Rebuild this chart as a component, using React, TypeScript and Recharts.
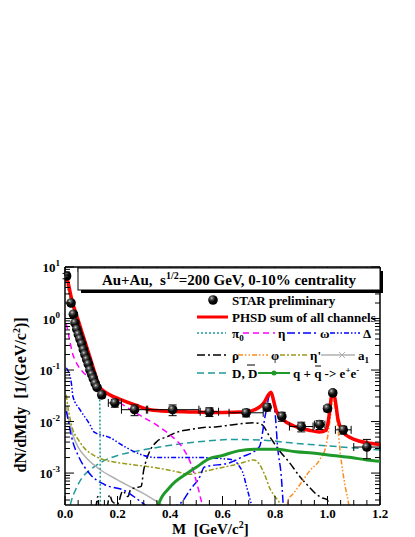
import React from 'react'
import { ComposedChart, Line, Scatter, XAxis, YAxis, ErrorBar, ReferenceLine } from 'recharts'

const SERIF = '"Liberation Serif", "Times New Roman", "DejaVu Serif", serif'
const LEFT = 65
const RIGHT = 380
const TOP = 267
const BOTTOM = 505

// dN/dMdy per channel (M in GeV/c^2)
const sumM = [0.002, 0.008, 0.027, 0.05, 0.075, 0.1, 0.115, 0.13, 0.14, 0.17, 0.21, 0.267, 0.324, 0.4, 0.5, 0.6, 0.69, 0.74, 0.76, 0.775, 0.785, 0.795, 0.805, 0.83, 0.87, 0.93, 0.97, 0.995, 1.005, 1.015, 1.022, 1.03, 1.04, 1.06, 1.09, 1.12, 1.16, 1.2]
const sumY = [7.3, 5.9, 2.2, 0.93, 0.37, 0.146, 0.083, 0.048, 0.042, 0.033, 0.027, 0.021, 0.017, 0.0158, 0.0153, 0.015, 0.0155, 0.019, 0.024, 0.033, 0.037, 0.025, 0.016, 0.011, 0.0083, 0.0068, 0.0063, 0.0068, 0.012, 0.03, 0.037, 0.025, 0.011, 0.0062, 0.0048, 0.0042, 0.0038, 0.0036]

const pi0M = [0.003, 0.01, 0.025, 0.05, 0.075, 0.1, 0.11, 0.12, 0.128, 0.132, 0.1335, 0.1345, 0.136]
const pi0Y = [6.5, 4.0, 2.0, 0.85, 0.34, 0.14, 0.1, 0.065, 0.045, 0.03, 0.005, 0.0004, 0.00001]

const etaM = [0.004, 0.01, 0.02, 0.03, 0.04, 0.05, 0.07, 0.1, 0.13, 0.16, 0.2, 0.25, 0.3, 0.35, 0.4, 0.45, 0.48, 0.5, 0.515, 0.525, 0.535]
const etaY = [0.8, 0.6, 0.33, 0.2, 0.15, 0.12, 0.09, 0.065, 0.045, 0.035, 0.025, 0.017, 0.012, 0.0085, 0.0055, 0.003, 0.0015, 0.0007, 0.00035, 0.0002, 0.00005]

const omegaM = [0.005, 0.01, 0.03, 0.05, 0.1, 0.15, 0.23, 0.28, 0.31, 0.35, 0.42, 0.44, 0.48, 0.514, 0.53, 0.63, 0.67, 0.74, 0.765, 0.782, 0.8, 0.81, 0.825, 0.83, 0.835]
const omegaY = [0.016, 0.012, 0.004, 0.0022, 0.0009, 0.0006, 0.00045, 0.0003, 0.00023, 0.00018, 0.00023, 0.00026, 0.0005, 0.00085, 0.0013, 0.0016, 0.002, 0.0032, 0.015, 0.035, 0.015, 0.0032, 0.00074, 0.0003, 0.0001]

const deltaM = [0.005, 0.01, 0.025, 0.03, 0.057, 0.095, 0.11, 0.17, 0.23, 0.3, 0.35, 0.52, 0.6, 0.64, 0.66, 0.68, 0.69, 0.7, 0.71, 0.72]
const deltaY = [0.11, 0.1, 0.052, 0.031, 0.017, 0.0087, 0.0063, 0.0049, 0.0032, 0.0022, 0.002, 0.002, 0.0019, 0.0018, 0.00145, 0.00093, 0.00059, 0.00038, 0.00024, 0.0001]

const rhoM = [0.11, 0.12, 0.125, 0.13, 0.16, 0.17, 0.18, 0.2, 0.22, 0.24, 0.25, 0.27, 0.29, 0.3, 0.31, 0.325, 0.35, 0.39, 0.43, 0.47, 0.52, 0.58, 0.64, 0.72, 0.75, 0.78, 0.82, 0.855, 0.895, 0.93, 0.96, 0.98, 1.0, 1.01]
const rhoY = [0.0001, 0.00026, 0.00035, 0.0002, 0.00022, 0.00038, 0.00028, 0.00025, 0.00045, 0.00035, 0.00048, 0.00052, 0.00055, 0.00115, 0.0018, 0.0028, 0.0041, 0.0051, 0.0063, 0.0069, 0.0076, 0.0079, 0.0087, 0.0095, 0.0087, 0.0051, 0.0026, 0.0016, 0.00085, 0.00054, 0.00038, 0.00033, 0.0003, 0.0001]

const phiM = [0.84, 0.85, 0.87, 0.9, 0.935, 0.97, 0.995, 1.01, 1.02, 1.03, 1.04, 1.05, 1.06, 1.07, 1.08, 1.09]
const phiY = [0.0001, 0.0003, 0.0004, 0.00065, 0.00115, 0.0018, 0.0035, 0.011, 0.025, 0.017, 0.0069, 0.0022, 0.00093, 0.00047, 0.00026, 0.0001]

const etaPM = [0.005, 0.01, 0.02, 0.03, 0.05, 0.07, 0.11, 0.15, 0.2, 0.26, 0.35, 0.43, 0.47, 0.52, 0.59, 0.66, 0.72, 0.74, 0.76, 0.78, 0.8, 0.82, 0.83]
const etaPY = [0.033, 0.021, 0.011, 0.0069, 0.0045, 0.0032, 0.0022, 0.0018, 0.0016, 0.00145, 0.00126, 0.00105, 0.00095, 0.00105, 0.00126, 0.0015, 0.0018, 0.0015, 0.00095, 0.00051, 0.00035, 0.00024, 0.0001]

const a1M = [0.005, 0.01, 0.02, 0.03, 0.05, 0.08, 0.13, 0.2, 0.25, 0.3, 0.34, 0.37, 0.4]
const a1Y = [0.02, 0.0135, 0.0087, 0.0055, 0.0032, 0.002, 0.0012, 0.00074, 0.00054, 0.0004, 0.0003, 0.00024, 0.00018]

const charmM = [0.02, 0.025, 0.04, 0.065, 0.1, 0.14, 0.2, 0.28, 0.36, 0.44, 0.52, 0.64, 0.77, 0.85, 0.96, 1.09, 1.2]
const charmY = [0.00024, 0.0003, 0.00047, 0.00081, 0.0012, 0.00165, 0.0022, 0.0027, 0.0032, 0.0037, 0.0041, 0.0045, 0.0043, 0.0039, 0.0035, 0.0031, 0.0028]

const qgpM = [0.355, 0.37, 0.39, 0.42, 0.46, 0.5, 0.55, 0.6, 0.66, 0.72, 0.8, 0.88, 0.96, 1.02, 1.09, 1.15, 1.2]
const qgpY = [0.00024, 0.00035, 0.00047, 0.00068, 0.00095, 0.0013, 0.0019, 0.0022, 0.0027, 0.0029, 0.0029, 0.0026, 0.0024, 0.0022, 0.002, 0.0018, 0.0017]

// STAR preliminary points: M, dN/dMdy, half bin width, y error
const starM = [0.006, 0.023, 0.032, 0.038, 0.045, 0.051, 0.057, 0.064, 0.07, 0.076, 0.083, 0.089, 0.095, 0.102, 0.108, 0.115, 0.122, 0.14, 0.19, 0.265, 0.41, 0.55, 0.69, 0.77, 0.826, 0.9, 0.97, 1.0, 1.02, 1.06, 1.15]
const starY = [6.7, 2.0, 1.21, 0.82, 0.62, 0.49, 0.4, 0.32, 0.25, 0.2, 0.16, 0.13, 0.1, 0.082, 0.068, 0.055, 0.046, 0.033, 0.023, 0.017, 0.017, 0.0155, 0.0148, 0.019, 0.0126, 0.008, 0.0087, 0.018, 0.036, 0.0069, 0.0032]
const starEx = [0, 0, 0, 0, 0, 0, 0, 0, 0, 0, 0, 0, 0, 0, 0, 0, 0, 0.01, 0.025, 0.05, 0.1, 0.035, 0.065, 0.01, 0.01, 0.045, 0.02, 0.005, 0.005, 0.03, 0.05]
const starEy = [0.8, 0.2, 0.1, 0.06, 0.05, 0.04, 0.03, 0.025, 0.02, 0.015, 0.012, 0.01, 0.008, 0.007, 0.006, 0.005, 0.004, 0.004, 0.004, 0.004, 0.004, 0.003, 0.0025, 0.003, 0.0025, 0.0017, 0.0017, 0.0025, 0.004, 0.0012, 0.0013]

const xTicks = [0, 0.05, 0.1, 0.15, 0.2, 0.25, 0.3, 0.35, 0.4, 0.45, 0.5, 0.55, 0.6, 0.65, 0.7, 0.75, 0.8, 0.85, 0.9, 0.95, 1.0, 1.05, 1.1, 1.15, 1.2]
const xLabels = ['0.0', '0.2', '0.4', '0.6', '0.8', '1.0', '1.2']
const yTicks = [
  3e-4, 4e-4, 5e-4, 6e-4, 7e-4, 8e-4, 9e-4,
  1e-3, 2e-3, 3e-3, 4e-3, 5e-3, 6e-3, 7e-3, 8e-3, 9e-3,
  1e-2, 2e-2, 3e-2, 4e-2, 5e-2, 6e-2, 7e-2, 8e-2, 9e-2,
  1e-1, 2e-1, 3e-1, 4e-1, 5e-1, 6e-1, 7e-1, 8e-1, 9e-1,
  1, 2, 3, 4, 5, 6, 7, 8, 9, 10,
]
const yExponents = [-3, -2, -1, 0, 1]

const pts = (m: number[], y: number[]) => m.map((x, i) => ({ x, y: y[i] }))
const star = starM.map((x, i) => ({ x, y: starY[i], ex: starEx[i], ey: starEy[i] }))

function XTick(props: any) {
  const { x, payload } = props
  const v = payload.value
  const major = Math.abs(v * 5 - Math.round(v * 5)) < 1e-6
  const len = major ? 9 : 5
  return (
    <g>
      <line x1={x} x2={x} y1={BOTTOM} y2={BOTTOM - len} stroke="#000" strokeWidth={1} />
      <line x1={x} x2={x} y1={TOP} y2={TOP + len} stroke="#000" strokeWidth={1} />
      {major && (
        <text x={x} y={BOTTOM + 13} textAnchor="middle" fontFamily={SERIF} fontWeight="bold" fontSize={13} fill="#000">
          {xLabels[Math.round(v * 5)]}
        </text>
      )}
    </g>
  )
}

function YTick(props: any) {
  const { y, payload } = props
  const lg = Math.log10(payload.value)
  const e = Math.round(lg)
  const major = Math.abs(lg - e) < 1e-6
  const len = major ? 9 : 5
  return (
    <g>
      <line x1={LEFT} x2={LEFT + len} y1={y} y2={y} stroke="#000" strokeWidth={1} />
      <line x1={RIGHT} x2={RIGHT - len} y1={y} y2={y} stroke="#000" strokeWidth={1} />
      {major && yExponents.includes(e) && (
        <text x={60} y={y + 5} textAnchor="end" fontFamily={SERIF} fontWeight="bold" fontSize={13} fill="#000">
          10<tspan dy={-6} fontSize={9}>{e}</tspan>
        </text>
      )}
    </g>
  )
}

function Ball({ cx, cy }: any) {
  return (
    <g>
      <defs>
        <radialGradient id="ballGrad" cx="0.36" cy="0.3" r="0.65">
          <stop offset="0" stopColor="#d8d8d8" />
          <stop offset="0.22" stopColor="#606060" />
          <stop offset="0.6" stopColor="#0a0a0a" />
          <stop offset="1" stopColor="#000" />
        </radialGradient>
      </defs>
      <circle cx={cx} cy={cy} r={4.8} fill="url(#ballGrad)" />
    </g>
  )
}

const T = { fontFamily: SERIF, fontWeight: 'bold' as const, fontSize: 13, fill: '#000' }

function Overlay() {
  return (
    <svg width={415} height={537} style={{ position: 'absolute', left: 0, top: 0, pointerEvents: 'none' }}>
      {/* title box */}
      <rect x={81} y={271} width={302} height={22} fill="#000" />
      <rect x={78} y={268} width={302} height={22} fill="#fff" stroke="#000" strokeWidth={1} />
      <text x={229} y={285} textAnchor="middle" {...T} fontSize={15}>
        Au+Au,{'\u00a0\u00a0'}s<tspan dy={-6} fontSize={10}>1/2</tspan><tspan dy={6}>=200 GeV, 0-10% centrality</tspan>
      </text>

      {/* legend */}
      <Ball cx={213} cy={300} />
      <text x={232} y={304.5} {...T}>STAR preliminary</text>

      <line x1={197} x2={228} y1={317} y2={317} stroke="#ff0000" strokeWidth={3} />
      <text x={232} y={321.5} {...T}>PHSD sum of all channels</text>

      <line x1={197} x2={226} y1={333} y2={333} stroke="#1f9a9a" strokeWidth={1.5} strokeDasharray="2 2" />
      <text x={232} y={337.5} {...T}>π<tspan dy={3} fontSize={9}>0</tspan></text>
      <line x1={243} x2={275} y1={333} y2={333} stroke="#ff00ff" strokeWidth={1.5} strokeDasharray="6 4" />
      <text x={278} y={337.5} {...T}>η</text>
      <line x1={287} x2={318} y1={333} y2={333} stroke="#0000ff" strokeWidth={1.5} strokeDasharray="8 3 2 3" />
      <text x={320} y={337.5} {...T}>ω</text>
      <line x1={330} x2={360} y1={333} y2={333} stroke="#0000ff" strokeWidth={1.5} strokeDasharray="5 2 1.5 2 1.5 2" />
      <text x={363} y={337.5} {...T}>Δ</text>

      <line x1={197} x2={228} y1={355} y2={355} stroke="#000" strokeWidth={1.5} strokeDasharray="8 3 2 3" />
      <text x={232} y={359.5} {...T}>ρ</text>
      <line x1={238} x2={268} y1={355} y2={355} stroke="#ff8c1a" strokeWidth={1.5} strokeDasharray="5 2 1.5 2 1.5 2" />
      <text x={271} y={359.5} {...T}>φ</text>
      <line x1={280} x2={307} y1={355} y2={355} stroke="#9a9a1a" strokeWidth={1.5} strokeDasharray="5 2 2 2" />
      <text x={310} y={359.5} {...T}>η'</text>
      <line x1={321} x2={355} y1={355} y2={355} stroke="#b0b0b0" strokeWidth={1.5} />
      <path d="M339,352 L345,358 M339,358 L345,352" stroke="#b0b0b0" strokeWidth={1} />
      <text x={358} y={359.5} {...T}>a<tspan dy={3} fontSize={9}>1</tspan></text>

      <line x1={197} x2={228} y1={373} y2={373} stroke="#1f9a9a" strokeWidth={1.5} strokeDasharray="7 4" />
      <text x={232} y={377.5} {...T}>D, D</text>
      <line x1={247} x2={255} y1={365} y2={365} stroke="#000" strokeWidth={1} />
      <line x1={258} x2={290} y1={373} y2={373} stroke="#1f9a2a" strokeWidth={2} />
      <circle cx={274} cy={373} r={2.5} fill="#1f9a2a" />
      <text x={293} y={377.5} {...T}>
        q + q -&gt; e<tspan dy={-5} fontSize={9}>+</tspan><tspan dy={5}>e</tspan><tspan dy={-5} fontSize={9}>-</tspan>
      </text>
      <line x1={315} x2={321} y1={366} y2={366} stroke="#000" strokeWidth={1} />

      {/* axis titles */}
      <text transform="translate(26,395) rotate(-90)" textAnchor="middle" {...T} fontSize={16}>
        dN/dMdy{'\u00a0\u00a0'}[1/(GeV/c<tspan dy={-6} fontSize={10}>2</tspan><tspan dy={6}>)]</tspan>
      </text>
      <text x={172} y={534} {...T} fontSize={15}>
        M{'\u00a0\u00a0'}[GeV/c<tspan dy={-6} fontSize={10}>2</tspan><tspan dy={6}>]</tspan>
      </text>
    </svg>
  )
}

export default function App() {
  const common = { type: 'monotone' as const, dot: false, isAnimationActive: false, dataKey: 'y', legendType: 'none' as const }
  return (
    <div style={{ position: 'absolute', left: 0, top: 0, width: 415, height: 537, background: '#fff' }}>
      <ComposedChart width={415} height={537} margin={{ top: TOP, right: 415 - RIGHT, bottom: 537 - BOTTOM - 24, left: LEFT - 40 }}>
        <XAxis
          dataKey="x"
          type="number"
          domain={[0, 1.2]}
          ticks={xTicks}
          interval={0}
          allowDataOverflow
          height={24}
          tickSize={0}
          tickLine={false}
          tick={<XTick />}
          axisLine={{ stroke: '#000', strokeWidth: 1.5 }}
        />
        <YAxis
          type="number"
          scale="log"
          domain={[2.4e-4, 10]}
          ticks={yTicks}
          interval={0}
          allowDataOverflow
          width={40}
          tickSize={0}
          tickLine={false}
          tick={<YTick />}
          axisLine={{ stroke: '#000', strokeWidth: 1.5 }}
        />
        <ReferenceLine y={10} stroke="#000" strokeWidth={1.5} ifOverflow="visible" />
        <ReferenceLine x={1.2} stroke="#000" strokeWidth={1.5} ifOverflow="visible" />

        <Line {...common} data={pts(charmM, charmY)} stroke="#1f9a9a" strokeWidth={1.5} strokeDasharray="7 4" />
        <Line {...common} data={pts(a1M, a1Y)} stroke="#b0b0b0" strokeWidth={1.5} />
        <Line {...common} data={pts(etaPM, etaPY)} stroke="#9a9a1a" strokeWidth={1.5} strokeDasharray="5 2 2 2" />
        <Line {...common} data={pts(rhoM, rhoY)} stroke="#000" strokeWidth={1.5} strokeDasharray="8 3 2 3" />
        <Line {...common} data={pts(phiM, phiY)} stroke="#ff8c1a" strokeWidth={1.5} strokeDasharray="5 2 1.5 2 1.5 2" />
        <Line {...common} data={pts(deltaM, deltaY)} stroke="#0000ff" strokeWidth={1.5} strokeDasharray="5 2 1.5 2 1.5 2" />
        <Line {...common} data={pts(omegaM, omegaY)} stroke="#0000ff" strokeWidth={1.5} strokeDasharray="8 3 2 3" />
        <Line {...common} data={pts(etaM, etaY)} stroke="#ff00ff" strokeWidth={1.5} strokeDasharray="6 4" />
        <Line {...common} data={pts(qgpM, qgpY)} stroke="#1f9a2a" strokeWidth={3} />
        <Line {...common} data={pts(pi0M, pi0Y)} stroke="#1f9a9a" strokeWidth={1.5} strokeDasharray="2 2" />
        <Line {...common} data={pts(sumM, sumY)} stroke="#ff0000" strokeWidth={3.5} />

        <Scatter data={star} dataKey="y" isAnimationActive={false} legendType="none" shape={(p: any) => <Ball cx={p.cx} cy={p.cy} />}>
          <ErrorBar dataKey="ey" direction="y" width={4} stroke="#000" strokeWidth={1} />
          <ErrorBar dataKey="ex" direction="x" width={4} stroke="#000" strokeWidth={1} />
        </Scatter>
      </ComposedChart>
      <Overlay />
    </div>
  )
}
